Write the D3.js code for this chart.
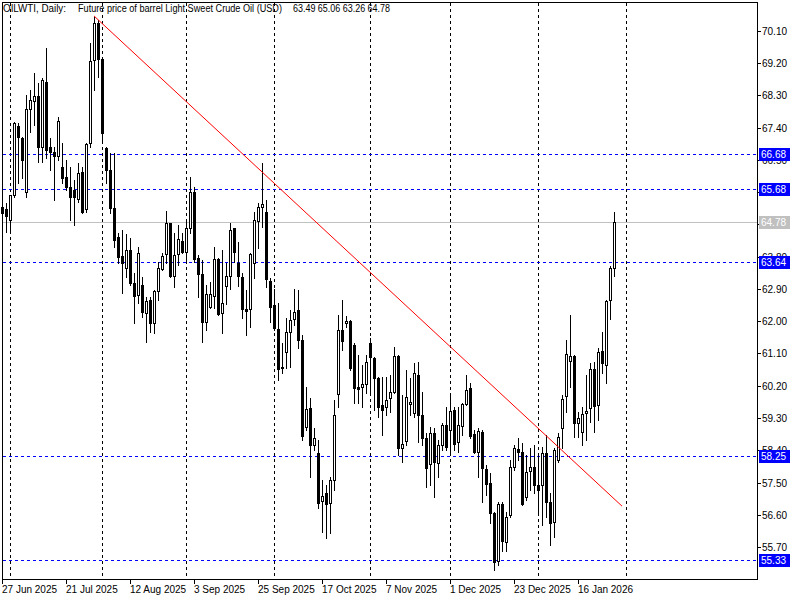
<!DOCTYPE html>
<html>
<head>
<meta charset="utf-8">
<script src="https://cdn.jsdelivr.net/npm/d3@7"></script>
<style>
  body { margin: 0; background: #fff; }
  svg text { font-family: "Liberation Sans", Arial, sans-serif; font-size: 10px; }
</style>
</head>
<body>
<div id="chart"></div>
<script>
// Daily OHLC for OILWTI, one entry per bar
var opens = [65.19, 65.13, 64.82, 65.52, 67.45, 67.11, 65.61, 67.92, 68.15, 68.29,
  66.86, 68.68, 66.86, 66.72, 66.61, 66.30, 66.02, 65.75, 65.66, 65.41,
  66.16, 65.13, 66.97, 69.29, 70.32, 69.32, 66.83, 66.22, 65.16, 64.35,
  63.82, 63.49, 63.99, 63.07, 62.73, 63.01, 62.23, 62.59, 61.95, 62.84,
  63.46, 63.88, 64.74, 63.26, 63.88, 64.24, 63.93, 64.60, 65.61, 63.76,
  63.32, 61.98, 62.40, 62.70, 63.74, 62.23, 62.98, 63.26, 64.60, 63.63,
  63.23, 62.34, 62.34, 63.63, 64.80, 65.19, 65.05, 63.12, 62.45, 61.78,
  60.72, 61.14, 61.70, 62.06, 62.31, 61.48, 59.05, 59.58, 58.55, 58.32,
  56.98, 57.21, 56.93, 57.57, 59.97, 61.75, 61.95, 62.01, 61.34, 60.16,
  60.16, 60.25, 61.39, 60.97, 60.42, 59.66, 59.61, 59.86, 60.02, 61.03,
  58.46, 58.66, 59.69, 59.44, 60.50, 59.38, 58.74, 58.02, 58.88, 58.04,
  58.55, 59.10, 58.96, 59.52, 58.63, 59.08, 59.69, 60.14, 58.85, 58.35,
  58.91, 57.88, 57.48, 56.65, 55.31, 56.90, 55.84, 56.59, 57.93, 58.43,
  58.35, 57.09, 57.82, 57.93, 57.43, 57.43, 58.32, 56.95, 56.40, 58.13,
  59.02, 59.91, 60.89, 61.03, 59.16, 58.91, 59.44, 59.58, 60.67, 59.66,
  61.17, 60.78, 62.59, 63.49];

var highs = [65.30, 65.30, 65.52, 67.56, 67.53, 67.14, 68.31, 68.45, 68.93, 68.65,
  68.79, 69.63, 67.11, 66.86, 67.70, 66.97, 66.50, 66.30, 65.94, 66.42,
  66.30, 66.97, 69.76, 70.49, 70.41, 69.37, 66.86, 66.70, 66.70, 64.46,
  64.55, 64.43, 64.32, 63.35, 64.07, 63.23, 62.68, 62.68, 62.87, 63.65,
  63.90, 65.08, 64.74, 64.46, 64.69, 64.46, 64.85, 66.02, 65.75, 63.85,
  63.71, 63.01, 63.09, 64.07, 63.76, 63.99, 63.63, 64.74, 64.60, 64.21,
  63.35, 62.87, 63.90, 65.05, 65.30, 66.42, 65.38, 63.21, 62.90, 62.51,
  61.39, 62.09, 62.31, 62.90, 62.87, 61.62, 60.16, 59.86, 59.02, 58.69,
  57.57, 57.43, 57.65, 59.80, 62.17, 62.59, 62.15, 62.03, 61.39, 61.06,
  60.78, 61.06, 61.53, 61.00, 60.44, 60.44, 60.44, 60.50, 61.28, 61.06,
  59.94, 60.64, 60.42, 60.83, 60.86, 60.02, 58.88, 59.05, 59.02, 58.69,
  59.16, 59.61, 59.94, 59.61, 59.61, 59.72, 60.50, 60.28, 58.96, 59.02,
  58.96, 57.99, 57.76, 56.68, 56.95, 56.95, 56.68, 58.13, 58.55, 58.74,
  58.60, 58.27, 58.46, 58.55, 58.27, 58.49, 58.82, 57.21, 58.46, 58.88,
  59.94, 61.48, 62.17, 61.06, 59.47, 59.61, 60.50, 60.83, 60.86, 61.25,
  61.70, 62.59, 63.54, 65.06];

var lows = [64.49, 64.49, 64.55, 65.47, 65.86, 66.00, 65.47, 67.28, 67.48, 66.44,
  66.44, 66.56, 66.22, 65.38, 66.50, 65.86, 65.66, 64.82, 64.69, 65.33,
  65.02, 65.05, 66.86, 68.45, 68.82, 66.97, 65.86, 65.02, 64.07, 63.63,
  62.79, 63.23, 63.01, 61.95, 62.51, 62.12, 61.42, 61.70, 61.67, 62.59,
  63.43, 63.63, 63.23, 62.96, 63.57, 63.90, 63.71, 64.46, 63.65, 62.68,
  61.42, 61.75, 62.37, 62.37, 62.17, 61.67, 62.48, 62.90, 63.65, 62.98,
  62.09, 61.62, 61.84, 63.21, 64.04, 64.63, 62.96, 61.98, 61.75, 60.36,
  60.55, 60.69, 60.72, 61.89, 61.25, 58.69, 58.96, 57.65, 58.41, 56.79,
  56.12, 55.95, 56.09, 57.29, 59.61, 61.20, 61.84, 60.64, 59.72, 59.72,
  59.61, 60.00, 59.97, 59.52, 59.33, 58.82, 59.38, 59.47, 60.00, 58.27,
  58.07, 58.55, 59.38, 59.33, 58.63, 58.55, 57.37, 57.43, 57.09, 57.65,
  58.41, 58.41, 58.27, 58.41, 58.35, 58.82, 59.66, 58.74, 58.32, 57.65,
  56.95, 57.15, 56.37, 55.06, 55.20, 55.59, 55.59, 56.54, 57.85, 58.13,
  56.87, 57.01, 57.29, 57.21, 56.59, 56.31, 56.54, 55.75, 55.98, 58.07,
  58.46, 59.47, 60.16, 58.77, 58.77, 58.55, 58.69, 59.19, 58.91, 59.24,
  60.55, 60.28, 62.06, 63.26];

var closes = [65.02, 64.94, 65.52, 67.53, 67.14, 66.50, 67.92, 68.17, 68.29, 66.86,
  68.73, 66.78, 66.72, 66.61, 67.59, 66.00, 65.75, 65.47, 65.47, 66.14,
  65.05, 66.95, 69.26, 70.32, 69.32, 67.25, 66.22, 65.16, 64.27, 63.79,
  63.63, 63.99, 63.07, 62.70, 63.90, 62.26, 62.56, 61.95, 62.84, 63.49,
  63.82, 64.74, 63.26, 63.85, 64.29, 63.93, 64.60, 65.61, 63.74, 63.32,
  61.98, 62.76, 62.76, 63.74, 62.20, 62.51, 63.26, 64.55, 63.93, 63.26,
  62.34, 62.29, 63.88, 64.82, 65.19, 65.27, 63.18, 62.40, 61.81, 60.67,
  60.69, 61.70, 62.03, 62.26, 61.48, 58.80, 59.55, 58.55, 58.74, 56.93,
  57.12, 56.90, 57.57, 59.38, 61.75, 61.45, 62.01, 60.69, 60.14, 60.11,
  60.25, 60.86, 61.00, 60.42, 59.61, 59.52, 59.80, 60.02, 61.03, 58.46,
  58.57, 59.89, 59.75, 60.55, 59.38, 58.74, 57.90, 58.88, 58.07, 58.55,
  59.10, 58.49, 59.49, 58.57, 59.10, 59.69, 60.08, 58.80, 58.35, 58.94,
  57.90, 57.46, 56.65, 55.28, 56.90, 55.87, 56.54, 57.93, 58.46, 58.35,
  56.90, 57.79, 57.93, 57.43, 57.29, 58.32, 56.95, 56.37, 58.41, 58.77,
  59.83, 61.08, 61.03, 59.16, 59.30, 59.41, 59.49, 60.67, 59.63, 61.14,
  60.83, 62.56, 63.49, 64.78];

// Bottom axis labels and the bar they sit on
var dateTickBars = [0, 16, 32, 48, 64, 80, 96, 112, 128, 144];
var dateTickLabels = ["27 Jun 2025", "21 Jul 2025", "12 Aug 2025", "3 Sep 2025", "25 Sep 2025",
  "17 Oct 2025", "7 Nov 2025", "1 Dec 2025", "23 Dec 2025", "16 Jan 2026"];

// Vertical dashed grid (month starts)
var gridBars = [2, 25, 46, 68, 92, 112, 134, 156];

// Right price scale ticks
var priceTicks = [70.10, 69.20, 68.30, 67.40, 66.50, 65.60, 64.70, 63.80, 62.90,
  62.00, 61.10, 60.20, 59.30, 58.40, 57.50, 56.60, 55.70];

// Horizontal levels
var levelPrices = [66.68, 65.68, 63.64, 58.25, 55.33];
var lastPrice = 64.78;

// Trend line end points (bar index, price)
var trendBars = [23, 155];
var trendPrices = [70.52, 56.84];

var titleParts = ["OILWTI, Daily:", "Future price of barrel Light Sweet Crude Oil (USD)", "63.49 65.06 63.26 64.78"];

var svgWidth = 800;
var svgHeight = 600;
var plotRight = 757;
var plotBottom = 579;

var svg = d3.select("#chart")
            .append("svg")
            .attr("width", svgWidth)
            .attr("height", svgHeight)
            .style("display", "block");

svg.append("rect")
   .attr("width", svgWidth)
   .attr("height", svgHeight)
   .attr("fill", "#fff");

var x = d3.scaleLinear().domain([0, 1]).range([2, 6]);
var y = d3.scaleLinear().domain([55.70, 70.10]).range([547, 31]);

function py(v) { return Math.round(y(v)); }

var bars = d3.range(opens.length).map(function(i) {
    return { i: i, o: opens[i], h: highs[i], l: lows[i], c: closes[i] };
});

// Vertical grid
svg.append("g")
   .selectAll("line")
   .data(gridBars)
   .enter()
   .append("line")
   .attr("x1", d => x(d) + 0.5)
   .attr("x2", d => x(d) + 0.5)
   .attr("y1", 3)
   .attr("y2", plotBottom)
   .attr("stroke", "#000")
   .attr("stroke-dasharray", "3,3")
   .attr("shape-rendering", "crispEdges");

// Current price line
svg.append("line")
   .attr("x1", 3)
   .attr("x2", plotRight)
   .attr("y1", py(lastPrice) + 0.5)
   .attr("y2", py(lastPrice) + 0.5)
   .attr("stroke", "#c0c0c0")
   .attr("shape-rendering", "crispEdges");

// Level lines
svg.append("g")
   .selectAll("line")
   .data(levelPrices)
   .enter()
   .append("line")
   .attr("x1", 3)
   .attr("x2", plotRight)
   .attr("y1", d => py(d) + 0.5)
   .attr("y2", d => py(d) + 0.5)
   .attr("stroke", "#0000ff")
   .attr("stroke-dasharray", "3,3")
   .attr("shape-rendering", "crispEdges");

// Candles: wicks then bodies
var candles = svg.append("g");

candles.selectAll("line")
   .data(bars)
   .enter()
   .append("line")
   .attr("x1", d => x(d.i) + 0.5)
   .attr("x2", d => x(d.i) + 0.5)
   .attr("y1", d => py(d.h))
   .attr("y2", d => py(d.l) + 1)
   .attr("stroke", "#000")
   .attr("shape-rendering", "crispEdges");

candles.selectAll("rect")
   .data(bars)
   .enter()
   .append("rect")
   .attr("x", d => x(d.i) - 0.5)
   .attr("y", d => py(Math.max(d.o, d.c)) + 0.5)
   .attr("width", 2)
   .attr("height", d => py(Math.min(d.o, d.c)) - py(Math.max(d.o, d.c)))
   .attr("fill", d => d.c >= d.o ? "#fff" : "#000")
   .attr("stroke", "#000")
   .attr("shape-rendering", "crispEdges");

// Trend line
svg.append("line")
   .attr("x1", x(trendBars[0]))
   .attr("y1", y(trendPrices[0]))
   .attr("x2", x(trendBars[1]))
   .attr("y2", y(trendPrices[1]))
   .attr("stroke", "#ff0000")
   .attr("stroke-width", 1);

// Frame
svg.append("rect")
   .attr("x", 2.5)
   .attr("y", 2.5)
   .attr("width", plotRight - 2)
   .attr("height", plotBottom - 2)
   .attr("fill", "none")
   .attr("stroke", "#000")
   .attr("shape-rendering", "crispEdges");

// Title, squeezed to the widths seen on the reference
var titleX = [3, 78, 293];
var titleW = [63, 204, 97];
var title = svg.append("g").attr("fill", "#000");
titleParts.forEach(function(t, k) {
    title.append("text")
         .attr("x", titleX[k])
         .attr("y", 12)
         .attr("textLength", titleW[k])
         .attr("lengthAdjust", "spacingAndGlyphs")
         .text(t);
});

// Right price axis
var priceAxis = svg.append("g");
priceAxis.selectAll("line")
   .data(priceTicks)
   .enter()
   .append("line")
   .attr("x1", plotRight)
   .attr("x2", plotRight + 4)
   .attr("y1", d => py(d) + 0.5)
   .attr("y2", d => py(d) + 0.5)
   .attr("stroke", "#000")
   .attr("shape-rendering", "crispEdges");
priceAxis.selectAll("text")
   .data(priceTicks)
   .enter()
   .append("text")
   .attr("x", plotRight + 5)
   .attr("y", d => py(d) + 4)
   .attr("fill", "#000")
   .text(d => d3.format(".2f")(d));

// Level price tags
function priceTag(v, color) {
    var g = svg.append("g");
    g.append("rect")
     .attr("x", 759)
     .attr("y", py(v) - 6)
     .attr("width", 31)
     .attr("height", 13)
     .attr("fill", color);
    g.append("text")
     .attr("x", 761)
     .attr("y", py(v) + 4)
     .attr("fill", "#fff")
     .text(d3.format(".2f")(v));
}
levelPrices.forEach(v => priceTag(v, "#0000ff"));
priceTag(lastPrice, "#c0c0c0");

// Bottom date axis
var dateAxis = svg.append("g");
dateAxis.selectAll("line")
   .data(dateTickBars)
   .enter()
   .append("line")
   .attr("x1", d => x(d) + 0.5)
   .attr("x2", d => x(d) + 0.5)
   .attr("y1", plotBottom)
   .attr("y2", plotBottom + 5)
   .attr("stroke", "#000")
   .attr("shape-rendering", "crispEdges");
dateAxis.selectAll("text")
   .data(dateTickBars)
   .enter()
   .append("text")
   .attr("x", d => x(d))
   .attr("y", 593)
   .attr("fill", "#000")
   .text((d, k) => dateTickLabels[k]);
</script>
</body>
</html>
